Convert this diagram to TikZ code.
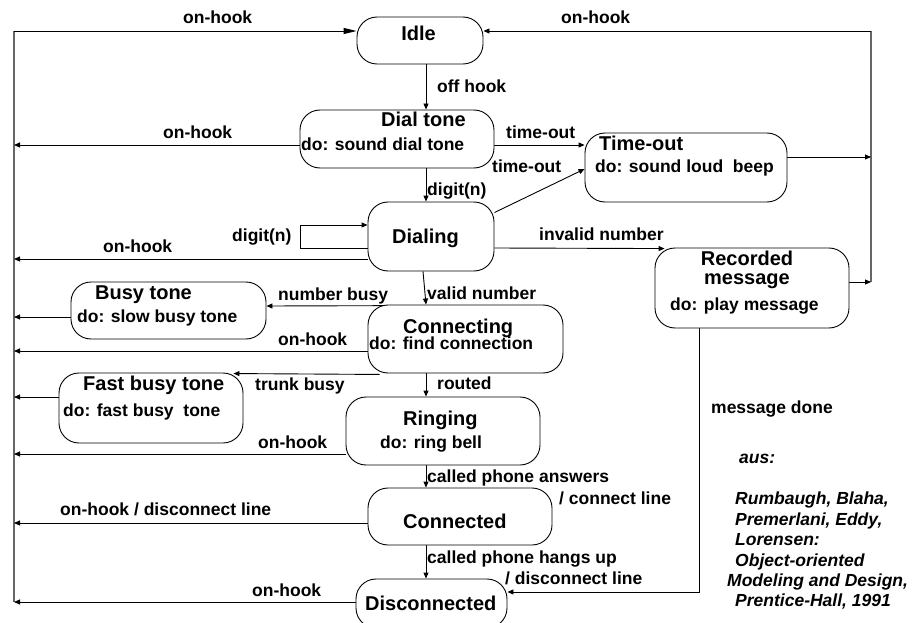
\documentclass[tikz,border=0pt]{standalone}
\usepackage{fontspec}
\setmainfont{Liberation Sans}
\usetikzlibrary{arrows.meta,calc}
\pgfdeclarelayer{bg}
\pgfsetlayers{bg,main}
\begin{document}
\begin{tikzpicture}[x=1pt,y=-1pt,
  state/.style={draw, fill=white, rounded corners=20pt, line width=0.9pt, inner sep=0},
  lbl/.style={font=\fontsize{17.5}{20}\selectfont\bfseries, inner sep=0, anchor=base west},
  ttl/.style={font=\fontsize{20}{22}\selectfont\bfseries, inner sep=0, anchor=base west},
  cite/.style={font=\fontsize{17.5}{20}\selectfont\bfseries\itshape, inner sep=0, anchor=base west},
  arr/.style={-{Triangle[length=6pt,width=5pt]}, line width=0.9pt},
  bigarr/.style={-{Triangle[length=13pt,width=6pt]}, line width=0.9pt},
  conn/.style={line width=0.9pt},
  bus/.style={line width=1.4pt, draw=black!60}]
\useasboundingbox (0,0) rectangle (924,623);
\clip (0,0) rectangle (924,623);

% states
\node[state, minimum width=126pt, minimum height=47pt] (idle) at (420,40.5) {};
\node[state, minimum width=194pt, minimum height=58pt] (dial) at (397,139) {};
\node[state, minimum width=202pt, minimum height=69pt] (timeout) at (686,167.5) {};
\node[state, minimum width=126pt, minimum height=69pt] (dialing) at (431,236.5) {};
\node[state, minimum width=194pt, minimum height=80pt] (rec) at (752,288) {};
\node[state, minimum width=195pt, minimum height=57pt] (busy) at (168.5,310.5) {};
\node[state, minimum width=195pt, minimum height=68pt] (connecting) at (465.5,339) {};
\node[state, minimum width=184pt, minimum height=70pt] (fast) at (151,408) {};
\node[state, minimum width=194pt, minimum height=68pt] (ringing) at (443,431) {};
\node[state, minimum width=184pt, minimum height=57pt] (connected) at (460,516.5) {};
\node[state, minimum width=151pt, minimum height=49pt] (disc) at (431.5,603.5) {};

% state texts
\node[ttl, anchor=base] (tIdle) at (418.5,40.5) {Idle};
\node[ttl] (tDial) at (381,127) {Dial tone};
\node[lbl] (dDial) at (301,150.5) {do: sound dial tone};
\node[ttl] (tTimeout) at (599,150) {Time-out};
\node[lbl] (dTimeout) at (595,173) {do: sound loud\ \ beep};
\node[ttl] (tDialing) at (392,243) {Dialing};
\node[ttl, anchor=base] (tRec1) at (747,265) {Recorded};
\node[ttl, anchor=base] (tRec2) at (747,284) {message};
\node[lbl] (dRec) at (670,310) {do: play message};
\node[ttl] (tBusy) at (95,299) {Busy tone};
\node[lbl] (dBusy) at (77,322) {do: slow busy tone};
\node[ttl] (tConnecting) at (403,333) {Connecting};
\node[lbl] (dConnecting) at (369,349) {do: find connection};
\node[ttl] (tFast) at (83,390) {Fast busy tone};
\node[lbl] (dFast) at (63,416) {do: fast busy\ \ tone};
\node[ttl] (tRinging) at (403,425) {Ringing};
\node[lbl] (dRinging) at (380,448) {do: ring bell};
\node[ttl] (tConnected) at (403,528) {Connected};
\node[ttl] (tDisc) at (365,610) {Disconnected};

% bus lines
\coordinate (Ltop) at (14,31);
\coordinate (Lbot) at (14,602);
\coordinate (Rtop) at (871,31);
\coordinate (Rbot) at (871,282);
\coordinate (cx) at (426,0);
\coordinate (mx) at (699,592);

\begin{pgfonlayer}{bg}
\draw[bus] (Ltop) -- (Lbot);
\draw[bus] (Rtop) -- (Rbot);
\draw[bigarr] (Ltop) -- (idle.west |- Ltop);
\draw[arr] (Rtop) -- (idle.east |- Rtop);
% main column
\draw[arr] (idle.south -| cx) -- (dial.north -| cx);
\draw[arr] (dial.south -| cx) -- (dialing.north -| cx);
\draw[arr] ($(dialing.south -| cx)+(-3,0)$) -- (connecting.north -| cx);
\draw[arr] (connecting.south -| cx) -- (ringing.north -| cx);
\draw[arr] (ringing.south -| cx) -- (connected.north -| cx);
\draw[arr] (connected.south -| cx) -- (disc.north -| cx);
% on-hook to the left
\draw[arr] (dial.west |- {0,145}) -- (Ltop |- {0,145});
\draw[arr] (dialing.west |- {0,259}) -- (Ltop |- {0,259});
\draw[arr] (busy.west |- {0,317}) -- (Ltop |- {0,317});
\draw[arr] (connecting.west |- {0,351}) -- (Ltop |- {0,351});
\draw[arr] (fast.west |- {0,397}) -- (Ltop |- {0,397});
\draw[arr] (ringing.west |- {0,454}) -- (Ltop |- {0,454});
\draw[arr] (connected.west |- {0,523}) -- (Ltop |- {0,523});
\draw[arr] (disc.west |- Lbot) -- (Lbot);
% time-out
\draw[arr] (dial.east |- {0,145}) -- (timeout.west |- {0,145});
\draw[arr] ($(dialing.north east)+(0,11)$) -- (timeout.west |- {0,169});
\draw[arr] (timeout.east |- {0,157}) -- (Rtop |- {0,157});
\draw[arr] (rec.east |- Rbot) -- (Rbot);
% self loop
\draw[arr] (dialing.west |- {0,248}) -- (300,248) -- (300,225) -- (dialing.west |- {0,225});
% invalid number
\draw[arr] (dialing.east |- {0,248}) -- ($(rec.north west)+(10,1)$);
% busy
\draw[arr] ($(connecting.north -| cx)+(-1,1)$) -- (busy.east |- {0,306});
\draw[arr] ($(connecting.south west)+(12,1)$) -- ($(fast.north east)+(-10,1)$);
% message done
\draw[arr] (rec.south -| mx) -- (mx) -- (disc.east |- mx);
\end{pgfonlayer}

% labels
\node[lbl] (a1) at (183,24) {on-hook};
\node[lbl] (a2) at (561,24) {on-hook};
\node[lbl] (a3) at (437,93) {off hook};
\node[lbl] (a4) at (163,139) {on-hook};
\node[lbl] (a5) at (506,139) {time-out};
\node[lbl] (a6) at (492,173) {time-out};
\node[lbl] (a7) at (427,196) {digit(n)};
\node[lbl] (a8) at (232,241) {digit(n)};
\node[lbl] (a9) at (103,252) {on-hook};
\node[lbl] (a10) at (539,240) {invalid number};
\node[lbl] (a11) at (711,413) {message done};
\node[lbl] (a12) at (278,300) {number busy};
\node[lbl] (a13) at (427,299.5) {valid number};
\node[lbl] (a14) at (278,345) {on-hook};
\node[lbl] (a15) at (255,390.5) {trunk busy};
\node[lbl] (a16) at (437,389) {routed};
\node[lbl] (a17) at (258,448) {on-hook};
\node[lbl] (a18) at (427,482) {called phone answers};
\node[lbl] (a19) at (559,504) {/ connect line};
\node[lbl] (a20) at (60,515) {on-hook / disconnect line};
\node[lbl] (a21) at (427,563) {called phone hangs up};
\node[lbl] (a22) at (505,584) {/ disconnect line};
\node[lbl] (a23) at (252,596) {on-hook};

% citation
\node[cite] (c0) at (739,463) {aus:};
\node[cite] (c1) at (735,504) {Rumbaugh, Blaha,};
\node[cite] (c2) at (735,525) {Premerlani, Eddy,};
\node[cite] (c3) at (735,545.5) {Lorensen:};
\node[cite] (c4) at (735,566) {Object-oriented};
\node[cite] (c5) at (727,586) {Modeling and Design,};
\node[cite] (c6) at (735,606) {Prentice-Hall, 1991};
\end{tikzpicture}
\end{document}
